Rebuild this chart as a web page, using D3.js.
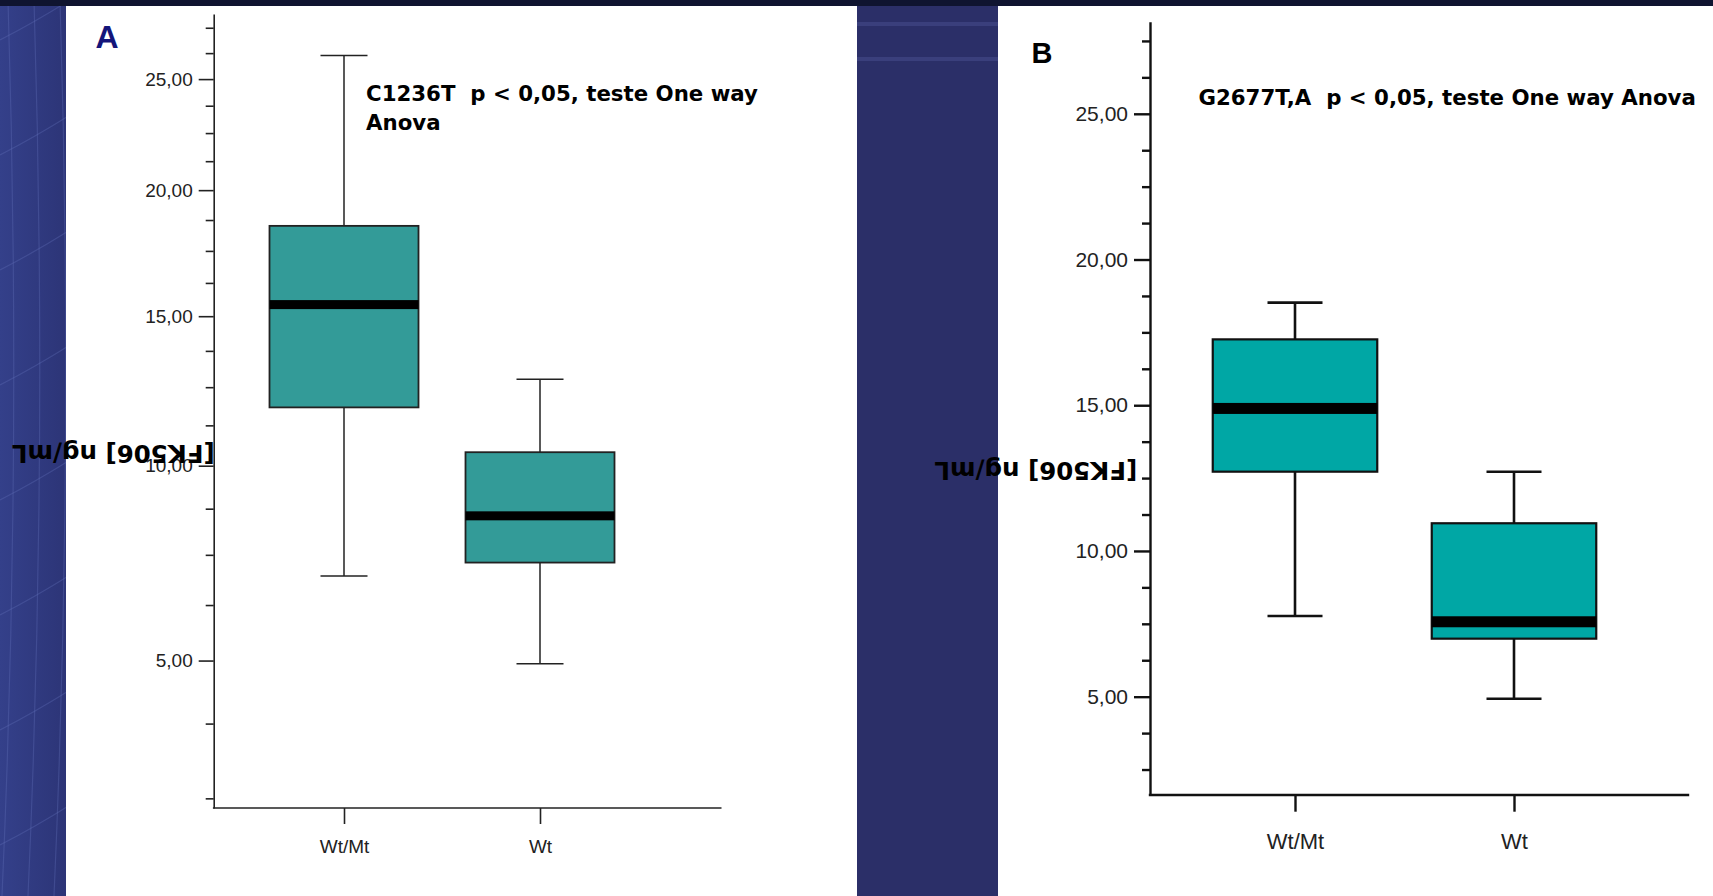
<!DOCTYPE html>
<meta charset="utf-8">
<script src="https://d3js.org/d3.v7.min.js"></script>
<style>
  body { margin: 0; background: #2c3270; }
  svg { display: block; }
</style>
<body>
<div id="chart"></div>
<script>
// groups on the x axis
var categories = ["Wt/Mt", "Wt"];

// panel A (C1236T) - box plot values
var lowA    = [6.96, 4.93];
var q1A     = [11.83, 7.30];
var medianA = [15.43, 8.55];
var q3A     = [18.51, 10.41];
var highA   = [26.13, 12.77];

// panel B (G2677T,A)
var lowB    = [7.77, 4.93];
var q1B     = [12.72, 6.99];
var medianB = [14.89, 7.57];
var q3B     = [17.26, 10.95];
var highB   = [18.52, 12.72];

// y axis ticks, same for both panels
var majorTicks = [5, 10, 15, 20, 25];
var minorTicks = [2.5, 3.75, 6.25, 7.5, 8.75, 11.25, 12.5, 13.75,
                  16.25, 17.5, 18.75, 21.25, 22.5, 23.75, 26.25, 27.5];

var titleA  = "C1236T  p < 0,05, teste One way";
var titleA2 = "Anova";
var titleB  = "G2677T,A  p < 0,05, teste One way Anova";
var yLabel  = "[FK506] ng/mL";

var width = 1713, height = 896;

// "25,00" style labels
var fmt = d3.formatLocale({decimal: ",", thousands: ".", grouping: [3], currency: ["", ""]}).format(".2f");

var svg = d3.select("#chart")
    .append("svg")
    .attr("width", width)
    .attr("height", height);

// slide background
var defs = svg.append("defs");
var grad = defs.append("linearGradient").attr("id", "leftblue").attr("x1", 0).attr("x2", 1);
grad.append("stop").attr("offset", "0%").attr("stop-color", "#34408a");
grad.append("stop").attr("offset", "100%").attr("stop-color", "#2c3476");

svg.append("rect").attr("width", width).attr("height", height).attr("fill", "#2b2f68");
svg.append("rect").attr("width", 70).attr("height", height).attr("fill", "url(#leftblue)");

// faint globe grid on the left strip
var grid = svg.append("g").attr("fill", "none").attr("stroke", "#6170b8").attr("stroke-opacity", 0.35).attr("stroke-width", 1.2);
d3.range(0, 8).forEach(function(i) {
    var yy = 40 + i * 115;
    grid.append("path").attr("d", "M0," + yy + " Q35," + (yy - 18) + " 70," + (yy - 40));
});
d3.range(0, 3).forEach(function(i) {
    var xx = 8 + i * 26;
    grid.append("path").attr("d", "M" + xx + ",0 Q" + (xx + 14) + ",450 " + (xx - 6) + ",896");
});

// light streaks between the panels
svg.append("rect").attr("x", 857).attr("y", 22).attr("width", 141).attr("height", 4).attr("fill", "#4a5090").attr("opacity", 0.5);
svg.append("rect").attr("x", 857).attr("y", 57).attr("width", 141).attr("height", 4).attr("fill", "#4a5090").attr("opacity", 0.5);

// dark band at the top
svg.append("rect").attr("width", width).attr("height", 6).attr("fill", "#0f1430");

var panels = [
    {
        bgX: 66, bgW: 791,
        left: 213.7, right: 720.7, top: 14, bottom: 808,
        y: d3.scaleSqrt().domain([2.357, 28.19]).range([808, 14]),
        xRange: [344, 540],
        low: lowA, q1: q1A, med: medianA, q3: q3A, high: highA,
        boxW: 149, capW: 47, medH: 9,
        fill: "#339b98", line: "#222", axisW: 1.6, whiskW: 1.5, boxStroke: 1.8,
        tickFont: 19, catFont: 19, majorLen: 15, minorLen: 8, tickPad: 6,
        catTick: 16, catPad: 15.5,
        letter: "A", letterX: 95.5, letterY: 48, letterSize: 32, letterColor: "#14157a",
        titles: [titleA, titleA2], titleX: 366, titleY: [100.7, 130],
        labelX: 113.3, labelY: 454
    },
    {
        bgX: 998, bgW: 715,
        left: 1150, right: 1688, top: 21.7, bottom: 795,
        y: d3.scaleLinear().domain([1.626, 28.16]).range([795, 21.7]),
        xRange: [1295, 1514],
        low: lowB, q1: q1B, med: medianB, q3: q3B, high: highB,
        boxW: 164.5, capW: 55, medH: 11,
        fill: "#00a7a5", line: "#111", axisW: 2.4, whiskW: 2.6, boxStroke: 2.2,
        tickFont: 21, catFont: 22, majorLen: 16, minorLen: 8, tickPad: 6,
        catTick: 16.7, catPad: 22,
        letter: "B", letterX: 1031.5, letterY: 62.7, letterSize: 29, letterColor: "#000",
        titles: [titleB], titleX: 1198.5, titleY: [104.5],
        labelX: 1035.8, labelY: 471
    }
];

panels.forEach(function(p) {
    var g = svg.append("g");

    // white plot area
    g.append("rect")
        .attr("x", p.bgX).attr("y", 6)
        .attr("width", p.bgW).attr("height", height - 6)
        .attr("fill", "#fff");

    var y = p.y;
    var x = d3.scalePoint().domain(categories).range(p.xRange);

    var rows = categories.map(function(c, i) {
        return {cat: c, low: p.low[i], q1: p.q1[i], med: p.med[i], q3: p.q3[i], high: p.high[i]};
    });

    // minor ticks
    g.append("g")
        .attr("transform", "translate(" + p.left + ",0)")
        .call(d3.axisLeft(y).tickValues(minorTicks).tickSize(p.minorLen).tickFormat(""))
        .call(function(a) { a.select(".domain").remove(); })
        .selectAll("line")
        .attr("stroke", p.line).attr("stroke-width", p.axisW);

    // major ticks + labels + axis line
    var yAxis = g.append("g")
        .attr("transform", "translate(" + p.left + ",0)")
        .call(d3.axisLeft(y).tickValues(majorTicks).tickSize(p.majorLen).tickSizeOuter(0)
            .tickPadding(p.tickPad).tickFormat(fmt));
    yAxis.selectAll("line").attr("stroke", p.line).attr("stroke-width", p.axisW);
    yAxis.select(".domain").attr("stroke", p.line).attr("stroke-width", p.axisW);
    yAxis.selectAll("text")
        .attr("fill", "#222")
        .style("font-family", "'Liberation Sans', Arial, sans-serif")
        .style("font-size", p.tickFont + "px");

    // x axis line across the plot
    g.append("line")
        .attr("x1", p.left).attr("x2", p.right)
        .attr("y1", p.bottom).attr("y2", p.bottom)
        .attr("stroke", p.line).attr("stroke-width", p.axisW)
        .attr("stroke-linecap", "square");

    var xAxis = g.append("g")
        .attr("transform", "translate(0," + p.bottom + ")")
        .call(d3.axisBottom(x).tickSize(p.catTick).tickPadding(p.catPad));
    xAxis.select(".domain").remove();
    xAxis.selectAll("line").attr("stroke", p.line).attr("stroke-width", p.axisW);
    xAxis.selectAll("text")
        .attr("fill", "#222")
        .style("font-family", "'Liberation Sans', Arial, sans-serif")
        .style("font-size", p.catFont + "px");

    var box = g.selectAll(".box").data(rows).join("g").attr("class", "box");

    // whiskers
    box.append("line")
        .attr("x1", function(d) { return x(d.cat); })
        .attr("x2", function(d) { return x(d.cat); })
        .attr("y1", function(d) { return y(d.high); })
        .attr("y2", function(d) { return y(d.q3); })
        .attr("stroke", p.line).attr("stroke-width", p.whiskW);
    box.append("line")
        .attr("x1", function(d) { return x(d.cat); })
        .attr("x2", function(d) { return x(d.cat); })
        .attr("y1", function(d) { return y(d.q1); })
        .attr("y2", function(d) { return y(d.low); })
        .attr("stroke", p.line).attr("stroke-width", p.whiskW);

    // caps
    ["high", "low"].forEach(function(k) {
        box.append("line")
            .attr("x1", function(d) { return x(d.cat) - p.capW / 2; })
            .attr("x2", function(d) { return x(d.cat) + p.capW / 2; })
            .attr("y1", function(d) { return y(d[k]); })
            .attr("y2", function(d) { return y(d[k]); })
            .attr("stroke", p.line).attr("stroke-width", p.whiskW);
    });

    // the boxes
    box.append("rect")
        .attr("x", function(d) { return x(d.cat) - p.boxW / 2; })
        .attr("y", function(d) { return y(d.q3); })
        .attr("width", p.boxW)
        .attr("height", function(d) { return y(d.q1) - y(d.q3); })
        .attr("fill", p.fill)
        .attr("stroke", p.line).attr("stroke-width", p.boxStroke);

    // median bar
    box.append("rect")
        .attr("x", function(d) { return x(d.cat) - p.boxW / 2; })
        .attr("y", function(d) { return y(d.med) - p.medH / 2; })
        .attr("width", p.boxW)
        .attr("height", p.medH)
        .attr("fill", "#000");

    // test result text
    p.titles.forEach(function(t, i) {
        g.append("text")
            .attr("x", p.titleX).attr("y", p.titleY[i])
            .style("white-space", "pre")
            .style("font-family", "'DejaVu Sans', sans-serif")
            .style("font-weight", "bold")
            .style("font-size", "21.3px")
            .attr("fill", "#000")
            .text(t);
    });

    // panel letter
    g.append("text")
        .attr("x", p.letterX).attr("y", p.letterY)
        .style("font-family", "'Liberation Sans', Arial, sans-serif")
        .style("font-weight", "bold")
        .style("font-size", p.letterSize + "px")
        .attr("fill", p.letterColor)
        .text(p.letter);
});

// y axis titles last, upside down as in the slide, over the blue strip too
panels.forEach(function(p) {
    svg.append("text")
        .attr("transform", "translate(" + p.labelX + "," + p.labelY + ") rotate(180)")
        .attr("text-anchor", "middle")
        .attr("dy", "0.36em")
        .style("font-family", "'DejaVu Sans', sans-serif")
        .style("font-weight", "bold")
        .style("font-size", "24.5px")
        .attr("fill", "#000")
        .text(yLabel);
});
</script>
</body>
